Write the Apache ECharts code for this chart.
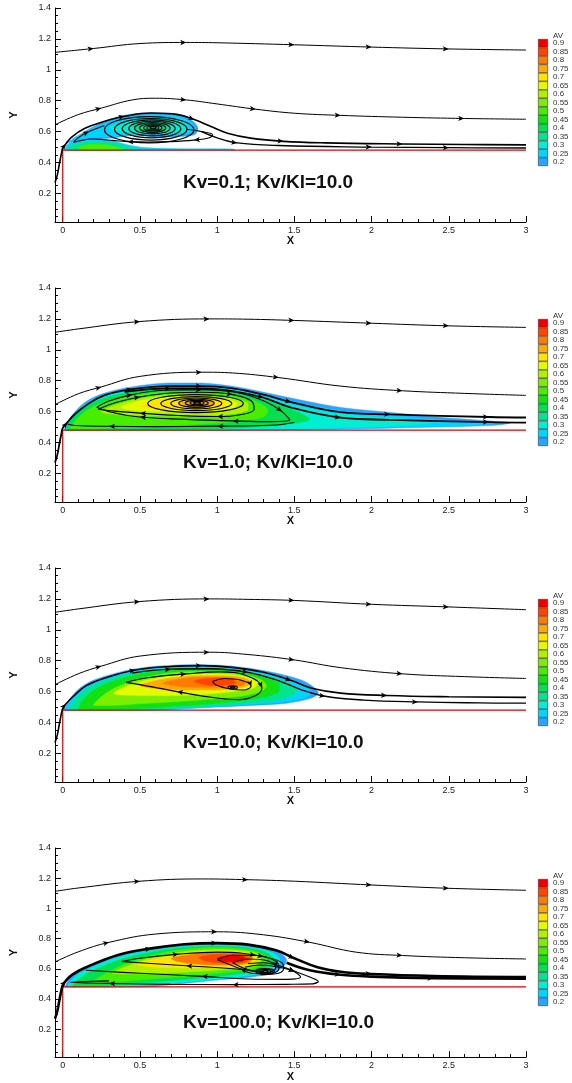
<!DOCTYPE html>
<html>
<head>
<meta charset="utf-8">
<script src="https://cdn.jsdelivr.net/npm/echarts@6/dist/echarts.min.js"></script>
<style>
html, body { margin: 0; padding: 0; background: #fff; }
#main { width: 572px; height: 1083px; }
</style>
</head>
<body>
<div id="main"></div>
<script>
// titles and axes
const titles = ['Kv=0.1; Kv/Kl=10.0', 'Kv=1.0; Kv/Kl=10.0', 'Kv=10.0; Kv/Kl=10.0', 'Kv=100.0; Kv/Kl=10.0'];
const xTicks = [0, 0.5, 1, 1.5, 2, 2.5, 3];
const yTicks = [0.2, 0.4, 0.6, 0.8, 1, 1.2, 1.4];
// AV levels (colour bar)
const levels = [0.2, 0.25, 0.3, 0.35, 0.4, 0.45, 0.5, 0.55, 0.6, 0.65, 0.7, 0.75, 0.8, 0.85, 0.9];
const levelColors = ['#2aa4ff', '#00d4ff', '#00eed2', '#00e68e', '#00e050', '#12e012', '#46ee00', '#7cee00', '#b0f000', '#e4fa00', '#ffe400', '#ffaa00', '#ff7a00', '#ff4400', '#ee0000'];
// wall
const wall = [[0, 0.015], [0, 0.48], [3, 0.48]];

// ---- panel 1 ----
const top1 = [[-0.05, 1.113], [0.2, 1.138], [0.5, 1.17], [0.8, 1.177], [1.0, 1.175], [1.5, 1.162], [2.0, 1.147], [2.5, 1.135], [3.0, 1.128]];
const mid1 = [[-0.05, 0.644], [0.1, 0.71], [0.25, 0.752], [0.45, 0.805], [0.6, 0.816], [0.8, 0.805], [1.0, 0.779], [1.25, 0.745], [1.5, 0.719], [1.8, 0.705], [2.2, 0.693], [2.6, 0.685], [3.0, 0.68]];
const lead1 = [[-0.05, 0.27], [-0.035, 0.32], [-0.02, 0.4], [-0.008, 0.46], [0.0, 0.493], [0.02, 0.52], [0.058, 0.565], [0.144, 0.622], [0.272, 0.667], [0.4, 0.699], [0.573, 0.72], [0.745, 0.71], [0.852, 0.678], [0.96, 0.633], [1.067, 0.59], [1.217, 0.558], [1.43, 0.537], [1.7, 0.527], [2.2, 0.52], [2.6, 0.517], [3.0, 0.514]];
const tail1 = [[0.9, 0.6], [1.0, 0.56], [1.13, 0.527], [1.4, 0.51], [2.0, 0.5], [2.5, 0.496], [3.0, 0.494]];
const loops1 = [
  [[0.8, 0.615], [0.9, 0.6], [0.97, 0.58], [0.95, 0.56], [0.85, 0.545], [0.7, 0.535], [0.55, 0.532], [0.42, 0.535], [0.32, 0.543], [0.25, 0.55], [0.18, 0.552], [0.12, 0.542], [0.07, 0.53], [0.1, 0.56], [0.17, 0.6], [0.27, 0.64]]
];
const rings1 = [[0.56, 0.612, 0.29, 0.085], [0.57, 0.615, 0.235, 0.07], [0.575, 0.618, 0.19, 0.058], [0.578, 0.62, 0.15, 0.047], [0.58, 0.622, 0.115, 0.037], [0.582, 0.623, 0.085, 0.028], [0.583, 0.624, 0.06, 0.02], [0.584, 0.624, 0.038, 0.013], [0.585, 0.625, 0.02, 0.007]];
const fill1 = [
  [0.2, [[0.03, 0.53], [0.08, 0.558], [0.165, 0.614], [0.27, 0.664], [0.4, 0.706], [0.573, 0.721], [0.745, 0.713], [0.83, 0.677], [0.876, 0.624], [0.857, 0.583], [0.79, 0.57], [0.65, 0.565], [0.45, 0.575], [0.33, 0.56], [0.2, 0.55], [0.1, 0.54]]],
  [0.25, [[0.06, 0.55], [0.15, 0.6], [0.27, 0.652], [0.4, 0.692], [0.57, 0.709], [0.73, 0.703], [0.815, 0.67], [0.855, 0.625], [0.83, 0.592], [0.7, 0.575], [0.5, 0.58], [0.35, 0.57], [0.2, 0.56]]],
  [0.3, [[0.3, 0.625], [0.42, 0.668], [0.58, 0.692], [0.72, 0.684], [0.8, 0.65], [0.79, 0.6], [0.65, 0.585], [0.5, 0.585], [0.36, 0.6]]],
  [0.35, [[0.45, 0.63], [0.55, 0.655], [0.67, 0.65], [0.7, 0.625], [0.62, 0.6], [0.5, 0.605]]],
  [0.25, [[0.015, 0.48], [0.02, 0.505], [0.06, 0.535], [0.15, 0.545], [0.25, 0.548], [0.33, 0.54], [0.4, 0.52], [0.5, 0.5], [0.7, 0.49], [1.1, 0.487], [1.12, 0.48]]],
  [0.35, [[0.03, 0.48], [0.05, 0.51], [0.12, 0.53], [0.25, 0.535], [0.35, 0.522], [0.42, 0.5], [0.5, 0.48]]],
  [0.5, [[0.1, 0.48], [0.12, 0.505], [0.2, 0.518], [0.28, 0.515], [0.35, 0.5], [0.4, 0.48]]]
];

// ---- panel 2 ----
const top2 = [[-0.05, 1.113], [0.1, 1.135], [0.5, 1.183], [0.95, 1.2], [1.2, 1.198], [1.5, 1.19], [2.0, 1.172], [2.5, 1.155], [3.0, 1.145]];
const mid2 = [[-0.05, 0.645], [0.1, 0.715], [0.25, 0.76], [0.5, 0.828], [0.9, 0.855], [1.1, 0.85], [1.4, 0.82], [1.8, 0.765], [2.2, 0.735], [2.6, 0.718], [3.0, 0.705]];
const lead2 = [[-0.05, 0.27], [-0.035, 0.32], [-0.02, 0.4], [-0.008, 0.46], [0.0, 0.493], [0.03, 0.53], [0.07, 0.575], [0.15, 0.64], [0.27, 0.705], [0.45, 0.745], [0.7, 0.765], [0.9, 0.765], [1.1, 0.75], [1.3, 0.71], [1.48, 0.662], [1.8, 0.597], [2.12, 0.582], [2.76, 0.565], [3.0, 0.562]];
const tail2 = [[0.4, 0.728], [0.7, 0.75], [0.9, 0.75], [1.1, 0.733], [1.3, 0.69], [1.475, 0.627], [1.8, 0.561], [2.12, 0.547], [2.76, 0.532], [3.0, 0.529]];
const loops2 = [
  [[0.23, 0.615], [0.35, 0.66], [0.5, 0.695], [0.7, 0.72], [0.9, 0.725], [1.1, 0.71], [1.22, 0.67], [1.24, 0.615], [1.15, 0.58], [1.0, 0.568], [0.75, 0.575], [0.5, 0.59], [0.3, 0.607], [0.23, 0.615]],
  [[0.22, 0.628], [0.3, 0.668], [0.45, 0.71], [0.65, 0.738], [0.9, 0.742], [1.12, 0.725], [1.3, 0.67], [1.42, 0.6], [1.47, 0.545], [1.35, 0.535], [1.1, 0.54], [0.8, 0.55], [0.5, 0.565], [0.3, 0.6], [0.22, 0.628]],
  [[1.5, 0.53], [1.35, 0.512], [1.0, 0.506], [0.6, 0.503], [0.3, 0.505], [0.08, 0.51], [0.03, 0.52]]
];
const rings2 = [[0.86, 0.652, 0.31, 0.058], [0.865, 0.652, 0.23, 0.045], [0.865, 0.653, 0.165, 0.035], [0.866, 0.654, 0.115, 0.026], [0.868, 0.655, 0.075, 0.018], [0.87, 0.655, 0.045, 0.011], [0.87, 0.655, 0.022, 0.006]];
const fill2 = [
  [0.2, [[0.01, 0.48], [0.012, 0.49], [0.058, 0.572], [0.144, 0.66], [0.272, 0.72], [0.466, 0.763], [0.68, 0.785], [0.895, 0.785], [1.11, 0.763], [1.325, 0.72], [1.54, 0.675], [1.8, 0.627], [2.12, 0.595], [2.44, 0.563], [2.76, 0.54], [2.9, 0.527], [2.76, 0.51], [2.4, 0.5], [2.0, 0.49], [1.5, 0.483], [1.0, 0.48]]],
  [0.25, [[0.015, 0.48], [0.05, 0.56], [0.14, 0.648], [0.27, 0.71], [0.47, 0.752], [0.68, 0.772], [0.9, 0.772], [1.1, 0.752], [1.32, 0.708], [1.54, 0.655], [1.8, 0.605], [2.12, 0.575], [2.44, 0.548], [2.8, 0.525], [2.5, 0.505], [2.0, 0.495], [1.5, 0.485], [1.0, 0.48]]],
  [0.3, [[0.02, 0.48], [0.05, 0.55], [0.14, 0.638], [0.27, 0.7], [0.47, 0.742], [0.7, 0.76], [0.9, 0.76], [1.1, 0.74], [1.3, 0.695], [1.5, 0.64], [1.75, 0.59], [2.1, 0.56], [2.4, 0.535], [2.2, 0.51], [1.8, 0.495], [1.4, 0.484], [1.0, 0.48]]],
  [0.4, [[0.02, 0.48], [0.05, 0.54], [0.14, 0.625], [0.27, 0.688], [0.47, 0.73], [0.7, 0.748], [0.92, 0.748], [1.1, 0.728], [1.28, 0.685], [1.42, 0.635], [1.55, 0.585], [1.6, 0.55], [1.5, 0.525], [1.25, 0.5], [0.9, 0.487], [0.5, 0.48]]],
  [0.5, [[0.05, 0.49], [0.12, 0.58], [0.25, 0.655], [0.45, 0.705], [0.7, 0.73], [0.92, 0.73], [1.1, 0.71], [1.25, 0.665], [1.33, 0.61], [1.3, 0.565], [1.1, 0.535], [0.8, 0.515], [0.45, 0.5], [0.2, 0.49]]],
  [0.6, [[0.25, 0.6], [0.4, 0.66], [0.6, 0.7], [0.85, 0.712], [1.05, 0.695], [1.2, 0.655], [1.2, 0.61], [1.05, 0.58], [0.8, 0.57], [0.5, 0.575], [0.32, 0.585]]],
  [0.65, [[0.38, 0.63], [0.55, 0.68], [0.8, 0.7], [1.0, 0.69], [1.13, 0.655], [1.1, 0.62], [0.9, 0.6], [0.65, 0.6], [0.45, 0.61]]],
  [0.7, [[0.5, 0.645], [0.7, 0.685], [0.9, 0.69], [1.05, 0.67], [1.05, 0.635], [0.9, 0.615], [0.7, 0.615], [0.55, 0.625]]],
  [0.75, [[0.75, 0.655], [0.88, 0.675], [0.98, 0.665], [0.97, 0.64], [0.85, 0.635]]]
];

// ---- panel 3 ----
const top3 = [[-0.05, 1.113], [0.1, 1.135], [0.5, 1.183], [0.95, 1.2], [1.2, 1.197], [1.5, 1.19], [2.0, 1.165], [2.5, 1.148], [3.0, 1.13]];
const mid3 = [[-0.05, 0.645], [0.1, 0.715], [0.25, 0.765], [0.5, 0.83], [0.95, 0.855], [1.2, 0.84], [1.5, 0.805], [1.8, 0.755], [2.2, 0.715], [2.6, 0.697], [3.0, 0.685]];
const lead3 = [[-0.05, 0.27], [-0.035, 0.32], [-0.02, 0.4], [-0.008, 0.46], [0.0, 0.49], [0.02, 0.52], [0.07, 0.57], [0.15, 0.637], [0.28, 0.69], [0.47, 0.74], [0.7, 0.763], [0.9, 0.768], [1.1, 0.757], [1.3, 0.725], [1.48, 0.672], [1.62, 0.62], [1.8, 0.59], [2.1, 0.575], [2.5, 0.567], [3.0, 0.563]];
const tail3 = [[0.45, 0.72], [0.7, 0.745], [0.95, 0.748], [1.2, 0.725], [1.4, 0.67], [1.55, 0.61], [1.7, 0.57], [1.95, 0.545], [2.3, 0.533], [2.7, 0.527], [3.0, 0.525]];
const loops3 = [
  [[0.41, 0.66], [0.55, 0.69], [0.8, 0.715], [1.02, 0.728], [1.2, 0.7], [1.29, 0.625], [1.25, 0.575], [1.14, 0.548], [0.95, 0.565], [0.74, 0.6], [0.5, 0.645], [0.41, 0.66]],
  [[0.97, 0.665], [1.05, 0.685], [1.15, 0.675], [1.22, 0.635], [1.17, 0.61], [1.07, 0.62], [0.99, 0.645], [0.97, 0.665]]
];
const rings3 = [[1.1, 0.627, 0.03, 0.01], [1.1, 0.627, 0.015, 0.005]];
const fill3 = [
  [0.2, [[0.011, 0.48], [0.013, 0.49], [0.058, 0.57], [0.144, 0.646], [0.272, 0.699], [0.466, 0.747], [0.68, 0.769], [0.895, 0.774], [1.11, 0.763], [1.325, 0.731], [1.54, 0.676], [1.63, 0.625], [1.655, 0.59], [1.6, 0.555], [1.45, 0.525], [1.25, 0.512], [1.0, 0.5], [0.8, 0.49], [0.6, 0.48]]],
  [0.25, [[0.02, 0.48], [0.06, 0.56], [0.15, 0.638], [0.28, 0.69], [0.47, 0.738], [0.68, 0.76], [0.9, 0.765], [1.1, 0.754], [1.32, 0.72], [1.5, 0.665], [1.6, 0.615], [1.6, 0.575], [1.48, 0.54], [1.25, 0.52], [1.0, 0.505], [0.75, 0.49], [0.55, 0.48]]],
  [0.35, [[0.04, 0.48], [0.08, 0.55], [0.17, 0.628], [0.3, 0.682], [0.48, 0.728], [0.7, 0.75], [0.9, 0.755], [1.1, 0.743], [1.3, 0.708], [1.46, 0.655], [1.52, 0.605], [1.45, 0.56], [1.25, 0.53], [1.0, 0.51], [0.75, 0.495], [0.5, 0.482]]],
  [0.45, [[0.1, 0.48], [0.13, 0.545], [0.22, 0.62], [0.35, 0.675], [0.52, 0.718], [0.72, 0.74], [0.92, 0.744], [1.12, 0.73], [1.3, 0.695], [1.4, 0.65], [1.4, 0.6], [1.28, 0.56], [1.05, 0.53], [0.8, 0.51], [0.5, 0.49], [0.3, 0.482]]],
  [0.55, [[0.2, 0.51], [0.28, 0.59], [0.4, 0.65], [0.57, 0.7], [0.76, 0.727], [0.95, 0.73], [1.13, 0.715], [1.28, 0.68], [1.32, 0.635], [1.25, 0.59], [1.05, 0.56], [0.8, 0.54], [0.55, 0.525], [0.3, 0.51]]],
  [0.65, [[0.33, 0.59], [0.45, 0.648], [0.62, 0.69], [0.82, 0.712], [1.0, 0.714], [1.17, 0.7], [1.27, 0.665], [1.24, 0.625], [1.1, 0.6], [0.88, 0.58], [0.6, 0.575], [0.4, 0.578]]],
  [0.75, [[0.5, 0.64], [0.65, 0.68], [0.85, 0.702], [1.03, 0.703], [1.18, 0.688], [1.22, 0.655], [1.15, 0.625], [0.98, 0.61], [0.78, 0.61], [0.6, 0.62]]],
  [0.8, [[0.65, 0.655], [0.82, 0.69], [1.0, 0.695], [1.15, 0.68], [1.18, 0.65], [1.08, 0.63], [0.9, 0.628], [0.75, 0.635]]],
  [0.85, [[0.85, 0.668], [0.98, 0.688], [1.1, 0.678], [1.12, 0.655], [1.03, 0.64], [0.92, 0.645]]]
];

// ---- panel 4 ----
const top4 = [[-0.05, 1.113], [0.1, 1.135], [0.5, 1.18], [0.9, 1.195], [1.2, 1.19], [1.5, 1.18], [2.0, 1.155], [2.5, 1.133], [3.0, 1.12]];
const mid4 = [[-0.05, 0.645], [0.1, 0.712], [0.3, 0.775], [0.6, 0.83], [1.0, 0.845], [1.3, 0.825], [1.6, 0.775], [1.9, 0.71], [2.2, 0.688], [2.6, 0.673], [3.0, 0.665]];
const lead4 = [[-0.05, 0.27], [-0.035, 0.32], [-0.02, 0.4], [-0.008, 0.46], [0.0, 0.49], [0.02, 0.52], [0.06, 0.56], [0.144, 0.607], [0.358, 0.692], [0.573, 0.735], [0.788, 0.762], [1.0, 0.77], [1.2, 0.76], [1.38, 0.722], [1.5, 0.67], [1.65, 0.61], [1.8, 0.58], [2.0, 0.565], [2.4, 0.552], [3.0, 0.545]];
const tail4 = [[1.45, 0.64], [1.6, 0.59], [1.8, 0.56], [2.0, 0.548], [2.4, 0.538], [3.0, 0.535]];
const loops4 = [
  [[1.655, 0.51], [1.62, 0.5], [1.45, 0.497], [1.1, 0.495], [0.7, 0.497], [0.3, 0.503], [0.05, 0.51], [0.3, 0.52]],
  [[1.2, 0.635], [1.3, 0.64], [1.4, 0.62], [1.5, 0.585], [1.6, 0.545], [1.655, 0.515], [1.62, 0.5]],
  [[1.18, 0.61], [1.28, 0.625], [1.4, 0.61], [1.5, 0.58], [1.54, 0.545], [1.45, 0.53], [1.2, 0.532], [0.9, 0.55], [0.5, 0.57], [0.15, 0.59]],
  [[0.38, 0.648], [0.5, 0.67], [0.75, 0.697], [1.0, 0.71], [1.15, 0.705], [1.3, 0.68], [1.42, 0.64], [1.43, 0.6], [1.37, 0.565], [1.28, 0.56]],
  [[1.3, 0.58], [1.1, 0.6], [0.8, 0.62], [0.5, 0.64], [0.38, 0.648]],
  [[1.0, 0.66], [1.1, 0.69], [1.25, 0.69], [1.38, 0.65], [1.4, 0.6], [1.33, 0.565], [1.22, 0.57], [1.15, 0.6], [1.0, 0.66]],
  [[1.1, 0.64], [1.2, 0.665], [1.32, 0.655], [1.38, 0.61], [1.33, 0.575], [1.25, 0.58], [1.1, 0.64]]
];
const rings4 = [[1.31, 0.583, 0.06, 0.018], [1.31, 0.583, 0.04, 0.012], [1.31, 0.583, 0.02, 0.006]];
const fill4 = [
  [0.2, [[0.015, 0.48], [0.018, 0.49], [0.06, 0.555], [0.144, 0.602], [0.358, 0.688], [0.573, 0.731], [0.788, 0.758], [1.0, 0.767], [1.217, 0.752], [1.39, 0.715], [1.45, 0.66], [1.43, 0.615], [1.35, 0.57], [1.22, 0.545], [1.0, 0.525], [0.788, 0.503], [0.6, 0.485], [0.5, 0.48]]],
  [0.3, [[0.03, 0.48], [0.08, 0.55], [0.16, 0.597], [0.37, 0.68], [0.58, 0.723], [0.8, 0.75], [1.0, 0.758], [1.2, 0.744], [1.36, 0.707], [1.41, 0.655], [1.38, 0.615], [1.3, 0.575], [1.18, 0.552], [1.0, 0.532], [0.78, 0.51], [0.5, 0.485], [0.3, 0.48]]],
  [0.4, [[0.06, 0.48], [0.12, 0.545], [0.22, 0.6], [0.4, 0.67], [0.6, 0.715], [0.8, 0.742], [1.0, 0.75], [1.2, 0.737], [1.33, 0.7], [1.37, 0.655], [1.33, 0.61], [1.2, 0.575], [1.0, 0.55], [0.75, 0.525], [0.45, 0.5], [0.2, 0.483]]],
  [0.5, [[0.18, 0.5], [0.3, 0.58], [0.45, 0.65], [0.62, 0.7], [0.8, 0.73], [1.0, 0.74], [1.18, 0.728], [1.3, 0.695], [1.32, 0.65], [1.26, 0.61], [1.1, 0.58], [0.85, 0.555], [0.55, 0.53], [0.3, 0.51]]],
  [0.6, [[0.32, 0.57], [0.45, 0.63], [0.6, 0.68], [0.8, 0.715], [1.0, 0.727], [1.17, 0.718], [1.28, 0.69], [1.28, 0.645], [1.2, 0.61], [1.0, 0.59], [0.75, 0.575], [0.5, 0.565]]],
  [0.7, [[0.48, 0.63], [0.62, 0.67], [0.8, 0.703], [1.0, 0.716], [1.17, 0.708], [1.26, 0.68], [1.24, 0.64], [1.12, 0.615], [0.9, 0.605], [0.65, 0.608]]],
  [0.8, [[0.7, 0.67], [0.85, 0.697], [1.02, 0.708], [1.17, 0.7], [1.23, 0.672], [1.2, 0.638], [1.08, 0.625], [0.88, 0.63], [0.75, 0.648]]],
  [0.85, [[0.88, 0.675], [1.0, 0.697], [1.15, 0.692], [1.21, 0.668], [1.17, 0.642], [1.05, 0.637], [0.93, 0.65]]],
  [0.9, [[1.0, 0.672], [1.1, 0.688], [1.18, 0.675], [1.17, 0.652], [1.08, 0.647], [1.02, 0.655]]]
];

const panels = [
  { thin: [top1, mid1], bold: [lead1], boldW: 1.6, mid: [tail1], loops: loops1, rings: rings1, fill: fill1 },
  { thin: [top2, mid2], bold: [lead2, tail2], boldW: 1.8, mid: [], loops: loops2, rings: rings2, fill: fill2 },
  { thin: [top3, mid3], bold: [lead3], boldW: 1.6, mid: [tail3], loops: loops3, rings: rings3, fill: fill3 },
  { thin: [top4, mid4], bold: [lead4, tail4], boldW: 2.6, mid: [], loops: loops4, rings: rings4, fill: fill4 }
];
const panelTop = [8, 288, 568, 848];

const xMinor = [], yMinor = [];
for (let k = 1; k < 30; k++) if (k % 5) xMinor.push(k / 10);
for (let k = 1; k < 28; k++) if (k % 4) yMinor.push(k / 20);

function colorOf(v) {
  return levelColors[Math.round((v - 0.2) / 0.05)];
}

// put arrow heads on existing points roughly every `step` of path length
function withArrows(pts, step) {
  let acc = 0, next = step * 0.55;
  return pts.map((p, i) => {
    if (i > 0) acc += Math.hypot(p[0] - pts[i - 1][0], p[1] - pts[i - 1][1]);
    if (i > 0 && i < pts.length - 1 && acc >= next) {
      next = acc + step;
      const a = pts[i + 1], b = pts[i - 1];
      const ang = Math.atan2(a[1] - b[1], a[0] - b[0]) * 180 / Math.PI;
      return { value: p, symbol: 'arrow', symbolRotate: ang - 90 };
    }
    return { value: p, symbol: 'none' };
  });
}

const font = 'Liberation Sans, Arial, sans-serif';
const grid = [], xAxis = [], yAxis = [], series = [], title = [];

panels.forEach((p, i) => {
  const T = panelTop[i];
  const g = grid.length;
  grid.push({ left: 53, top: T, width: 473, height: 214 });
  const xi = xAxis.length, yi = yAxis.length;
  xAxis.push({
    gridIndex: g, type: 'value', min: -0.05, max: 3,
    axisLine: { show: true, onZero: false, lineStyle: { color: '#000', width: 1 } },
    axisTick: { show: true, inside: true, length: 6, customValues: xTicks, lineStyle: { color: '#000' } },
    axisLabel: { customValues: xTicks, fontSize: 9, color: '#222', margin: 4 },
    splitLine: { show: false },
    name: 'X', nameLocation: 'middle', nameGap: 8,
    nameTextStyle: { fontSize: 11, fontWeight: 'bold', color: '#111' }
  });
  xAxis.push({
    gridIndex: g, type: 'value', min: -0.05, max: 3, position: 'bottom',
    axisLine: { show: false, onZero: false },
    axisTick: { show: true, inside: true, length: 3, customValues: xMinor, lineStyle: { color: '#000' } },
    axisLabel: { show: false }, splitLine: { show: false }
  });
  yAxis.push({
    gridIndex: g, type: 'value', min: 0.015, max: 1.4,
    axisLine: { show: true, onZero: false, lineStyle: { color: '#000', width: 1 } },
    axisTick: { show: true, inside: true, length: 6, customValues: yTicks, lineStyle: { color: '#000' } },
    axisLabel: { customValues: yTicks, fontSize: 9, color: '#222', margin: 4 },
    splitLine: { show: false },
    name: 'Y', nameLocation: 'middle', nameGap: 36,
    nameTextStyle: { fontSize: 11, fontWeight: 'bold', color: '#111' }
  });
  yAxis.push({
    gridIndex: g, type: 'value', min: 0.015, max: 1.4, position: 'left',
    axisLine: { show: false, onZero: false },
    axisTick: { show: true, inside: true, length: 3, customValues: yMinor, lineStyle: { color: '#000' } },
    axisLabel: { show: false }, splitLine: { show: false }
  });

  // contour fill bands
  series.push({
    type: 'custom', xAxisIndex: xi, yAxisIndex: yi, silent: true, z: 1,
    data: p.fill.map((f, k) => [k, k]),
    renderItem: (params, api) => {
      const f = p.fill[params.dataIndex];
      const c = colorOf(f[0]);
      const pts = f[1].map(q => api.coord(q));
      let x0 = Infinity, y0 = Infinity, x1 = -Infinity, y1 = -Infinity;
      pts.forEach(q => { x0 = Math.min(x0, q[0]); y0 = Math.min(y0, q[1]); x1 = Math.max(x1, q[0]); y1 = Math.max(y1, q[1]); });
      return {
        type: 'polygon',
        shape: { points: pts, smooth: 0.35, smoothConstraint: [[x0, y0], [x1, y1]] },
        style: { fill: c, stroke: c, lineWidth: 0.5 }
      };
    }
  });
  // wall
  series.push({
    type: 'line', xAxisIndex: xi, yAxisIndex: yi, data: wall, symbol: 'none', silent: true, z: 3,
    lineStyle: { color: '#e00000', width: 1.2 }
  });
  const addLine = (pts, w, smooth) => series.push({
    type: 'line', xAxisIndex: xi, yAxisIndex: yi, silent: true, z: 4,
    data: withArrows(pts, 0.42), showSymbol: true, symbolSize: [4, 6], smooth: smooth,
    itemStyle: { color: '#000' },
    lineStyle: { color: '#000', width: w }
  });
  p.thin.forEach(s => addLine(s, 1, 0.4));
  p.mid.forEach(s => addLine(s, 1.3, 0.4));
  p.bold.forEach(s => addLine(s, p.boldW, 0.4));
  p.loops.forEach(s => addLine(s, 1.1, 0.4));
  // vortex rings
  series.push({
    type: 'custom', xAxisIndex: xi, yAxisIndex: yi, silent: true, z: 5,
    data: p.rings.map((r, k) => [r[0], r[1]]),
    renderItem: (params, api) => {
      const r = p.rings[params.dataIndex];
      const c = api.coord([r[0], r[1]]);
      const s = api.size([r[2], r[3]], [r[0], r[1]]);
      return {
        type: 'ellipse',
        shape: { cx: c[0], cy: c[1], rx: s[0], ry: s[1] },
        style: { fill: 'none', stroke: '#000', lineWidth: 1.2 }
      };
    }
  });

  // colour bar
  const cg = grid.length;
  grid.push({ left: 538, top: T + 31, width: 10, height: 127 });
  const cx = xAxis.length, cy = yAxis.length;
  xAxis.push({ gridIndex: cg, type: 'value', min: 0, max: 1, show: false });
  yAxis.push({
    gridIndex: cg, type: 'category', data: levels.map(String), position: 'right',
    axisLine: { show: false }, axisTick: { show: false },
    axisLabel: { interval: 0, fontSize: 8, color: '#333', margin: 5 }
  });
  series.push({
    type: 'bar', xAxisIndex: cx, yAxisIndex: cy, silent: true, barWidth: '100%',
    data: levels.map((v, k) => ({ value: 1, itemStyle: { color: levelColors[k] } })),
    itemStyle: { borderColor: '#333', borderWidth: 0.6 }
  });

  title.push({
    text: titles[i], left: 183, top: T + 165, padding: 0,
    textStyle: { fontSize: 19, fontWeight: 'bold', color: '#111', fontFamily: font }
  });
  // colour bar caption
  title.push({
    text: 'AV', left: 553, top: T + 24, padding: 0,
    textStyle: { fontSize: 8, fontWeight: 'normal', color: '#333', fontFamily: font }
  });
});

const chart = echarts.init(document.getElementById('main'), null, { renderer: 'canvas' });
chart.setOption({
  animation: false,
  textStyle: { fontFamily: font },
  title: title,
  grid: grid,
  xAxis: xAxis,
  yAxis: yAxis,
  series: series
});
</script>
</body>
</html>
